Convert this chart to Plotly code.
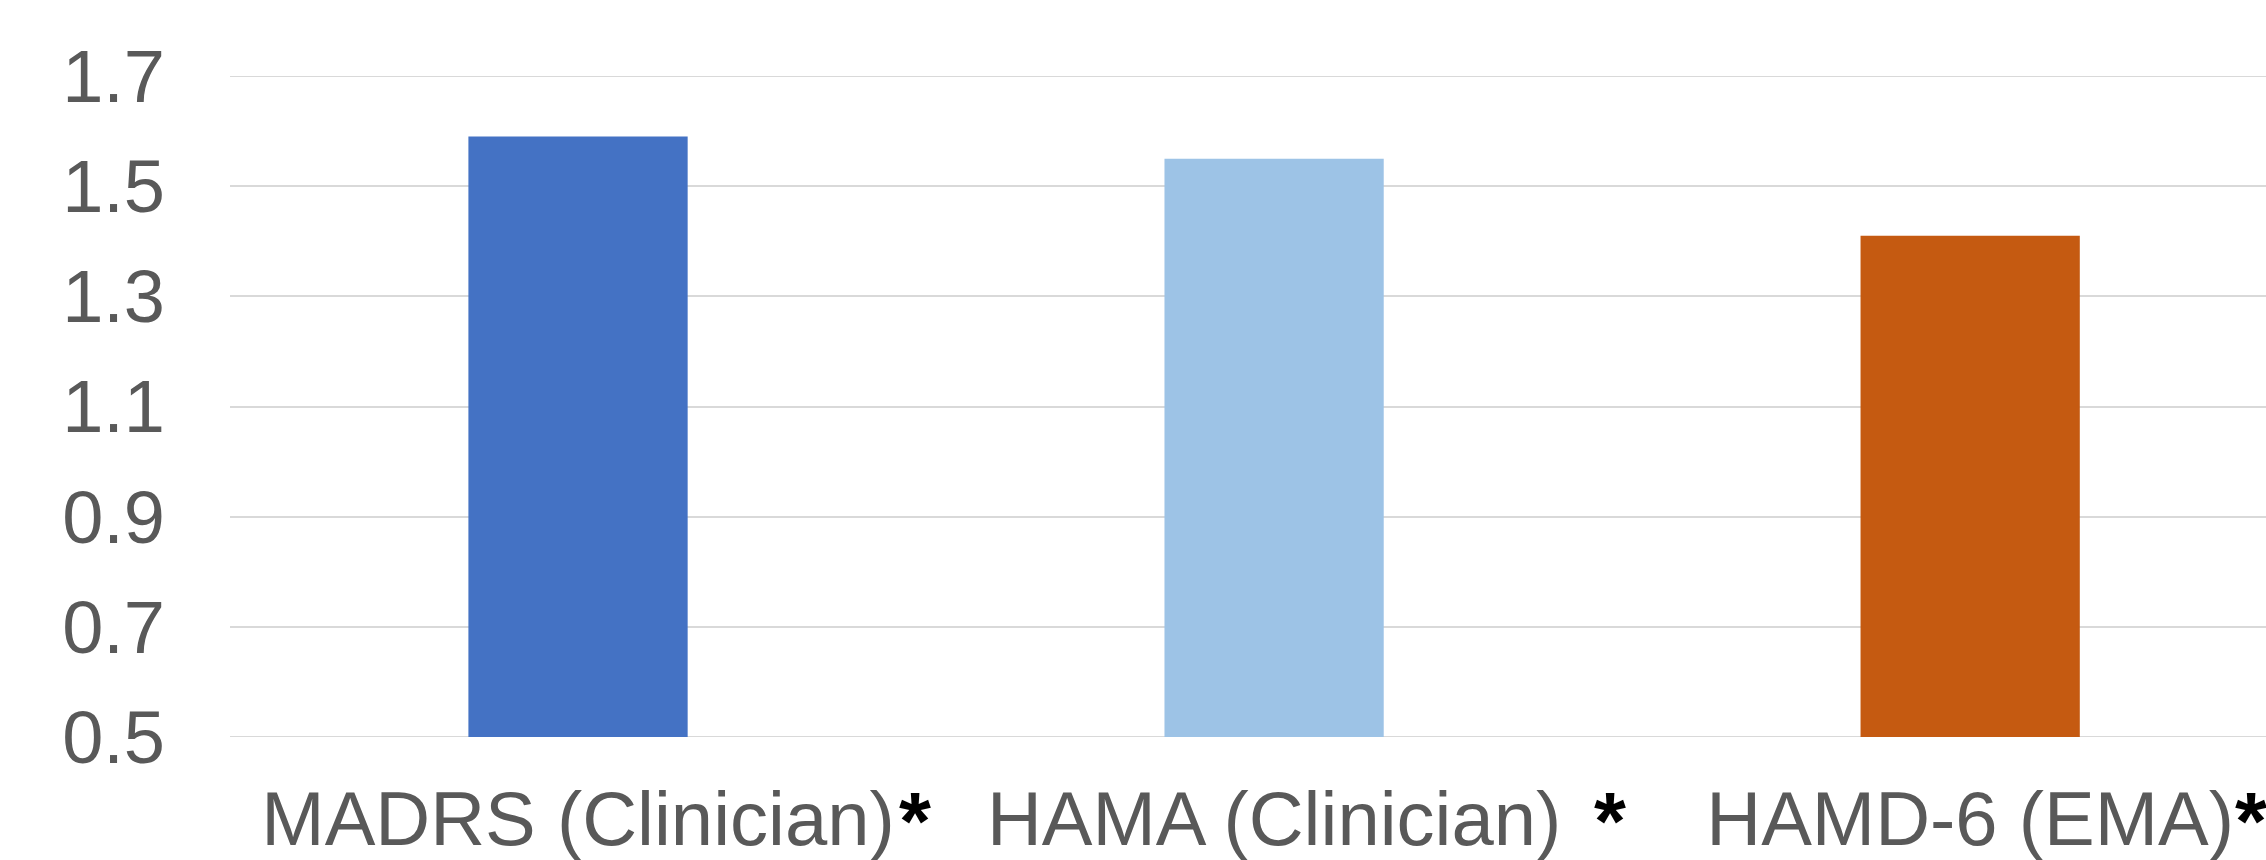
import plotly.graph_objects as go

# Effect sizes per rating scale
categories = ["MADRS (Clinician)", "HAMA (Clinician)", "HAMD-6 (EMA)"]
values = [1.59, 1.55, 1.41]
bar_colors = ["#4472C4", "#9DC3E6", "#C55A11"]
y_ticks = [0.5, 0.7, 0.9, 1.1, 1.3, 1.5, 1.7]
y_tick_labels = ["0.5", "0.7", "0.9", "1.1", "1.3", "1.5", "1.7"]
markers = ["*", "*", "*"]
axis_base = 0.5

x_idx = list(range(len(categories)))
grid_color = "#D9D9D9"

fig = go.Figure(
    go.Bar(
        x=x_idx,
        y=[v - axis_base for v in values],
        base=axis_base,
        marker=dict(color=bar_colors, line=dict(width=0)),
        width=0.315,
        hoverinfo="skip",
    )
)

# the outermost gridlines sit on the plot edges, so draw them explicitly
edge_lines = [
    dict(type="line", xref="paper", yref="y", x0=0, x1=1, y0=t, y1=t,
         line=dict(color=grid_color, width=2), layer="below")
    for t in (y_ticks[0], y_ticks[-1])
]

# asterisk placement to the right of each category label (in category units)
marker_offsets = [0.484, 0.483, 0.404]
annotations = []
for i, (m, off) in enumerate(zip(markers, marker_offsets)):
    annotations.append(dict(
        x=i + off, y=0, xref="x", yref="paper",
        text=f"<b>{m}</b>", showarrow=False,
        xanchor="center", yanchor="top", yshift=-36,
        font=dict(family="Liberation Sans, Arial, sans-serif", size=82, color="#000000"),
    ))

fig.update_layout(
    width=2266, height=860,
    margin=dict(l=230, r=0, t=76, b=123, pad=0),
    paper_bgcolor="white", plot_bgcolor="white",
    showlegend=False,
    annotations=annotations,
    shapes=edge_lines,
    xaxis=dict(
        range=[-0.5, 2.425],
        tickvals=x_idx, ticktext=categories,
        showgrid=False, zeroline=False, showline=False,
        ticks="", ticklabelstandoff=31, automargin=False,
        tickfont=dict(family="Liberation Sans, Arial, sans-serif",
                      size=76, color="#595959"),
    ),
    yaxis=dict(
        range=[0.5, 1.7],
        tickvals=y_ticks, ticktext=y_tick_labels,
        showgrid=True, gridcolor=grid_color, gridwidth=2,
        zeroline=False, showline=False, ticks="",
        ticklabelstandoff=64, automargin=False,
        tickfont=dict(family="Liberation Sans, Arial, sans-serif", size=74, color="#595959"),
    ),
)

fig.write_html("out.html")
